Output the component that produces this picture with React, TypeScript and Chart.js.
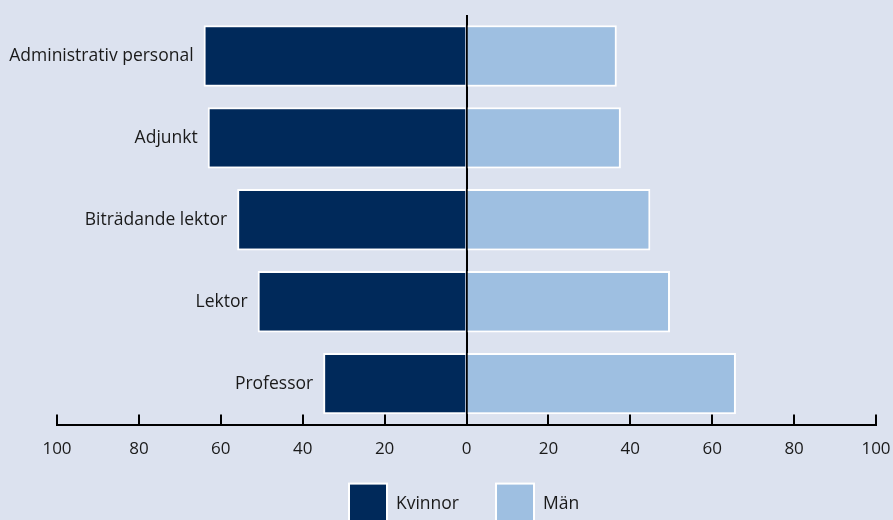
import React, { useEffect, useRef } from "react";
import { Chart, registerables } from "chart.js";

Chart.register(...registerables);

const categories = ["Administrativ personal", "Adjunkt", "Biträdande lektor", "Lektor", "Professor"];
const women = [64.2, 63.2, 56, 51, 35];
const men = [36.7, 37.7, 44.9, 49.7, 65.8];
const seriesNames = ["Kvinnor", "Män"];
const xTicks = [-100, -80, -60, -40, -20, 0, 20, 40, 60, 80, 100];

const BG = "#dce2ef";
const NAVY = "#00295a";
const LIGHT = "#9ebfe1";
const TEXT = "#1a1a1a";
const FONT = "'Open Sans', sans-serif";

export default function App() {
  const ref = useRef<HTMLCanvasElement | null>(null);

  useEffect(() => {
    if (!ref.current) return;
    const bgPlugin = {
      id: "bg",
      beforeDraw(chart: any) {
        const { ctx, width, height } = chart;
        ctx.save();
        ctx.fillStyle = BG;
        ctx.fillRect(0, 0, width, height);
        ctx.restore();
      },
    };
    const catLabels = {
      id: "catLabels",
      afterDatasetsDraw(chart: any) {
        const { ctx } = chart;
        const xs = chart.scales.x;
        const ys = chart.scales.y;
        ctx.save();
        ctx.font = `17.5px ${FONT}`;
        ctx.fillStyle = TEXT;
        ctx.textAlign = "right";
        ctx.textBaseline = "middle";
        categories.forEach((c, i) => {
          const x = xs.getPixelForValue(-women[i]) - 10;
          const y = ys.getPixelForValue(i);
          ctx.fillText(c, x, y);
        });
        ctx.restore();
      },
    };
    const legendPlugin = {
      id: "customLegend",
      afterDraw(chart: any) {
        const { ctx } = chart;
        const ca = chart.chartArea;
        const box = 38;
        const gap = 9;
        const spacing = 37;
        ctx.save();
        ctx.font = `17.5px ${FONT}`;
        const items = chart.data.datasets.map((d: any) => ({
          label: d.label,
          fill: d.backgroundColor,
          w: box + gap + ctx.measureText(d.label).width,
        }));
        const total = items.reduce((s: number, it: any) => s + it.w, 0) + spacing * (items.length - 1);
        let x = Math.round((ca.left + ca.right) / 2 - 2 - total / 2);
        const top = ca.bottom + 59;
        items.forEach((it: any) => {
          ctx.fillStyle = it.fill;
          ctx.fillRect(x, top, box, box);
          ctx.strokeStyle = "#ffffff";
          ctx.lineWidth = 2;
          ctx.strokeRect(x, top, box, box);
          ctx.fillStyle = TEXT;
          ctx.textAlign = "left";
          ctx.textBaseline = "middle";
          ctx.fillText(it.label, x + box + gap, top + 20);
          x += it.w + spacing;
        });
        ctx.restore();
      },
    };
    const chart = new Chart(ref.current, {
      type: "bar",
      data: {
        labels: categories,
        datasets: [
          {
            label: seriesNames[0],
            data: women.map((v) => -v),
            backgroundColor: NAVY,
            borderColor: "#ffffff",
            borderWidth: 2,
            borderSkipped: "start",
          },
          {
            label: seriesNames[1],
            data: men,
            backgroundColor: LIGHT,
            borderColor: "#ffffff",
            borderWidth: 2,
            borderSkipped: "start",
          },
        ],
      },
      options: {
        indexAxis: "y",
        animation: false,
        responsive: true,
        maintainAspectRatio: false,
        layout: { padding: { left: 57, right: 17, top: 15, bottom: 48 } },
        datasets: { bar: { barPercentage: 0.75, categoryPercentage: 1 } },
        scales: {
          y: { display: false, stacked: true },
          x: {
            stacked: true,
            min: -100,
            max: 100,
            z: 1,
            afterBuildTicks: (scale: any) => {
              scale.ticks = xTicks.map((v) => ({ value: v }));
            },
            afterFit: (scale: any) => {
              scale.paddingLeft = 0;
              scale.paddingRight = 0;
            },
            border: { display: true, color: "#000", width: 2 },
            grid: {
              drawOnChartArea: true,
              drawTicks: true,
              tickLength: -10,
              lineWidth: 2,
              tickWidth: 2,
              tickColor: "#000",
              color: (ctx: any) => (ctx.tick && ctx.tick.value === 0 ? "#000" : "rgba(0,0,0,0)"),
            },
            ticks: {
              padding: 24,
              color: TEXT,
              font: { family: FONT, size: 17 },
              callback: (v: any) => String(Math.abs(Number(v))),
              maxRotation: 0,
              autoSkip: false,
            },
          },
        },
        plugins: {
          tooltip: { enabled: false },
          legend: { display: false },
        },
      },
      plugins: [bgPlugin, catLabels, legendPlugin],
    });
    return () => chart.destroy();
  }, []);

  return (
    <div style={{ position: "fixed", left: 0, top: 0, width: 893, height: 520, overflow: "hidden", background: BG }}>
      <div style={{ position: "relative", width: 893, height: 531 }}>
        <canvas ref={ref} />
      </div>
    </div>
  );
}
